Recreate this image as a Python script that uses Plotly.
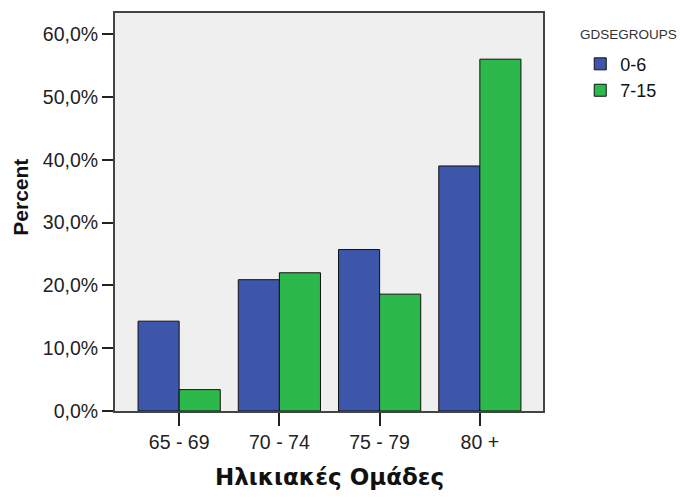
import plotly.graph_objects as go

# Age groups and percentage of each GDS score group
age_groups = ["65 - 69", "70 - 74", "75 - 79", "80 +"]
gds_0_6 = [14.3, 20.9, 25.7, 39.0]
gds_7_15 = [3.4, 22.0, 18.6, 56.0]
y_ticks = [0, 10, 20, 30, 40, 50, 60]
y_tick_labels = [f"{v:.1f}%".replace(".", ",") for v in y_ticks]

BLUE = "#3d56a9"
GREEN = "#2db84b"
SANS = "Liberation Sans, Arial, sans-serif"
TICK_FONT = dict(family=SANS, size=19.5, color="#222222")

fig = go.Figure()
fig.add_trace(go.Bar(
    x=age_groups, y=gds_0_6, name="0-6",
    marker=dict(color=BLUE, line=dict(color="#111111", width=1)),
))
fig.add_trace(go.Bar(
    x=age_groups, y=gds_7_15, name="7-15",
    marker=dict(color=GREEN, line=dict(color="#111111", width=1)),
))

fig.update_layout(
    width=686, height=498,
    margin=dict(l=115, r=143, t=13, b=87),
    paper_bgcolor="white",
    plot_bgcolor="#efefef",
    barmode="group",
    bargap=0.18,
    bargroupgap=0,
    showlegend=True,
    legend=dict(
        font=dict(family=SANS, size=18, color="#111111"),
        x=1.087, xanchor="left", y=0.918, yanchor="top",
        bgcolor="rgba(0,0,0,0)", tracegroupgap=0, itemwidth=30,
    ),
    annotations=[
        # legend heading
        dict(text="GDSEGROUPS", x=1.0818, y=0.947,
             xref="paper", yref="paper", xanchor="left", yanchor="middle",
             showarrow=False,
             font=dict(family=SANS, size=13.5, color="#333333")),
        dict(text="<b>Percent</b>", textangle=-90, x=-0.2196, y=0.536,
             xref="paper", yref="paper", xanchor="center", yanchor="middle",
             showarrow=False,
             font=dict(family=SANS, size=21, color="#111111")),
        dict(text="<b>Ηλικιακές Ομάδες</b>", x=0.5, y=-0.167,
             xref="paper", yref="paper", xanchor="center", yanchor="middle",
             showarrow=False,
             font=dict(family="DejaVu Sans, sans-serif", size=23, color="#111111")),
    ],
)

fig.update_xaxes(
    range=[-0.64, 3.63],
    showline=True, linecolor="#444444", linewidth=2, mirror=True,
    ticks="outside", ticklen=13, tickwidth=2, tickcolor="#222222",
    tickfont=TICK_FONT, showgrid=False, zeroline=False,
)
fig.update_yaxes(
    range=[0, 63.35],
    tickvals=y_ticks, ticktext=y_tick_labels,
    showline=True, linecolor="#444444", linewidth=2, mirror=True,
    ticks="outside", ticklen=11, tickwidth=2, tickcolor="#222222",
    tickfont=TICK_FONT, showgrid=False, zeroline=False,
)

fig.write_html("out.html")
